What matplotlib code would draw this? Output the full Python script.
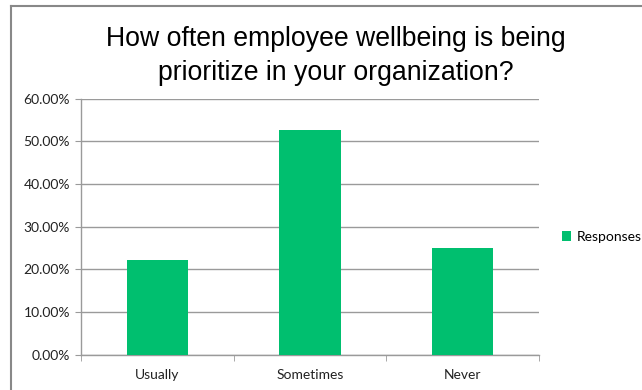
import matplotlib
matplotlib.use("Agg")
import matplotlib.pyplot as plt
from matplotlib.lines import Line2D
from matplotlib.ticker import FuncFormatter, FixedLocator

title = "How often employee wellbeing is being\nprioritize in your organization?"
categories = ["Usually", "Sometimes", "Never"]
values = [22.22, 52.78, 25.00]
series_name = "Responses"
yticks = [0, 10, 20, 30, 40, 50, 60]

W, H = 642, 390
fig = plt.figure(figsize=(W / 100, H / 100), dpi=100)
ax = fig.add_axes([81 / W, 1 - 354.7 / H, (539 - 81) / W, (354.7 - 98.7) / H])

bar_color = "#00BF6F"
grid_color = "#9a9a9a"
tick_font = "Lato"

x = list(range(len(categories)))
ax.bar(x, values, width=0.4, color=bar_color, label=series_name, zorder=3)

ax.set_xlim(-0.5, len(categories) - 0.5)
ax.set_ylim(0, 60)
ax.set_yticks(yticks)
ax.yaxis.set_major_formatter(FuncFormatter(lambda v, p: f"{v:.2f}%"))
ax.set_xticks(x)
ax.set_xticklabels(categories)
ax.xaxis.set_minor_locator(FixedLocator([i - 0.5 for i in range(len(categories) + 1)]))

ax.grid(axis="y", color=grid_color, linewidth=1, zorder=0)
for s in ["top", "right"]:
    ax.spines[s].set_visible(False)
for s in ["left", "bottom"]:
    ax.spines[s].set_color(grid_color)
    ax.spines[s].set_linewidth(1)

ax.tick_params(axis="x", which="major", length=0, pad=10, labelsize=10, labelcolor="#222222")
ax.tick_params(axis="x", which="minor", length=4, color=grid_color, direction="out")
ax.tick_params(axis="y", which="major", length=4, color=grid_color, labelsize=10, labelcolor="#222222", pad=4)
for lbl in ax.get_xticklabels() + ax.get_yticklabels():
    lbl.set_family(tick_font)

fig.text(336 / W, 1 - 56 / H, title, ha="center", va="center", fontsize=19.2,
         family="Liberation Sans", color="#000000", linespacing=1.35)

leg = fig.legend(loc="center left", bbox_to_anchor=(556 / W, 1 - 237 / H), frameon=False,
                 prop={"family": tick_font, "size": 10}, handlelength=0.7, handleheight=0.7,
                 handletextpad=0.4, borderaxespad=0)

border = "#888888"
fig.add_artist(Line2D([11.5 / W, 11.5 / W], [0, 1 - 5.5 / H], color=border, lw=1.5, transform=fig.transFigure))
fig.add_artist(Line2D([11.5 / W, 1], [1 - 5.5 / H, 1 - 5.5 / H], color=border, lw=1.5, transform=fig.transFigure))

fig.savefig("out.png", dpi=100)
